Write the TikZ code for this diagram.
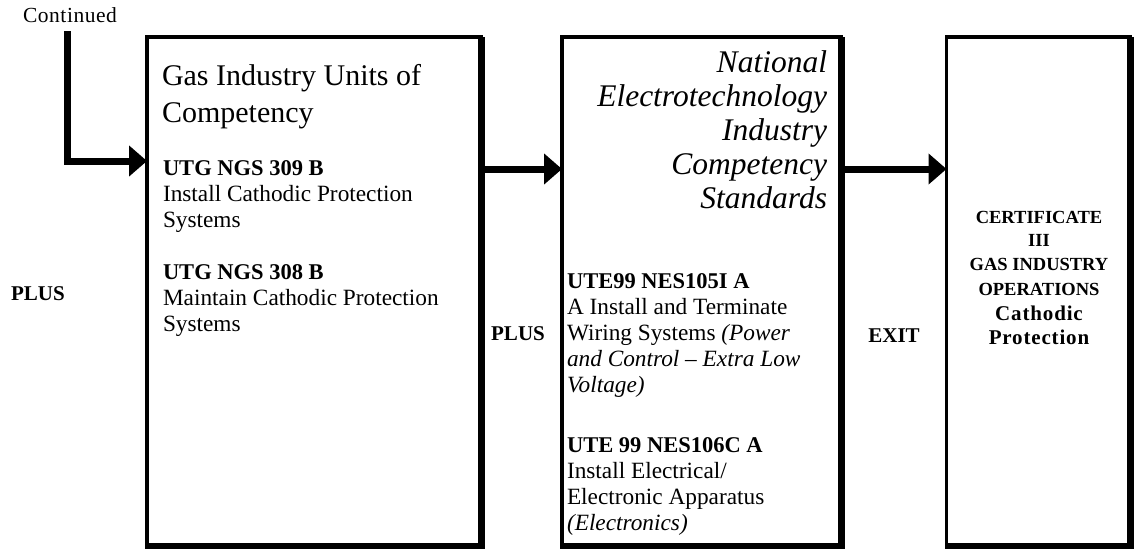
\documentclass[tikz,border=0pt]{standalone}
\usepackage{fontspec}
\setmainfont{Liberation Serif}
\usetikzlibrary{arrows.meta}
\begin{document}
\begin{tikzpicture}[x=1pt,y=-1pt,
  box/.style={draw, line width=3.8pt, outer sep=0pt, inner sep=0pt, anchor=north west},
  shadowedge/.style={line width=6.8pt, line cap=butt, line join=miter},
  arr/.style={line width=7pt, line join=miter, -{Triangle[length=18pt,width=30pt]}},
  lbl/.style={inner sep=0pt, outer sep=0pt},
  smalltxt/.style={lbl, anchor=base, font=\fontsize{21.5}{24}\selectfont\addfontfeature{LetterSpace=2.5}},
  title/.style={lbl, anchor=base west, font=\fontsize{30}{34}\selectfont},
  ititle/.style={lbl, anchor=base east, font=\fontsize{31.5}{34}\selectfont\itshape},
  body/.style={lbl, anchor=base west, font=\fontsize{23.3}{26}\selectfont},
  bodyb/.style={lbl, anchor=base west, font=\fontsize{22.5}{26}\selectfont\bfseries},
  plustxt/.style={lbl, anchor=base, font=\fontsize{21}{24}\selectfont\bfseries},
  caps/.style={lbl, anchor=base, font=\fontsize{18.5}{22}\selectfont\bfseries},
  capsbig/.style={lbl, anchor=base, font=\fontsize{21}{24}\selectfont\bfseries\addfontfeature{LetterSpace=4}}
]
\useasboundingbox (0,0) rectangle (1135,550);

% boxes
\node[box, minimum width=334.5pt, minimum height=509pt] (b1) at (147,37) {};
\node[box, minimum width=279.5pt, minimum height=509pt] (b2) at (562,37) {};
\node[box, minimum width=184pt, minimum height=509pt] (b3) at (946.5,37) {};
\draw[shadowedge] (b1.north east) -- (b1.south east) -- ([xshift=-1.9pt]b1.south west);
\draw[shadowedge] (b2.north east) -- (b2.south east) -- ([xshift=-1.9pt]b2.south west);
\draw[shadowedge] (b3.north east) -- (b3.south east) -- ([xshift=-1.9pt]b3.south west);

% connectors
\coordinate (cstart) at (67,31);
\draw[arr] (cstart) |- ([yshift=-124pt]b1.north west);
\draw[arr] ([yshift=-132pt]b1.north east) -- ([yshift=-132pt]b2.north west);
\draw[arr] ([yshift=-132pt]b2.north east) -- ([yshift=-132pt]b3.north west);

% texts
\node[smalltxt] (cont) at (70,22) {Continued};
\node[plustxt] (p1) at (38,300) {PLUS};
\node[plustxt] (p2) at (518,340) {PLUS};
\node[plustxt] (ex) at (894,342) {EXIT};

\node[title] (g1) at (162,85) {Gas Industry Units of};
\node[title] (g2) at (162,122) {Competency};
\node[bodyb] (u1) at (163,175) {UTG NGS 309 B};
\node[body] (u1a) at (163,201) {Install Cathodic Protection};
\node[body] (u1b) at (163,227) {Systems};
\node[bodyb] (u2) at (163,279) {UTG NGS 308 B};
\node[body] (u2a) at (163,305) {Maintain Cathodic Protection};
\node[body] (u2b) at (163,331) {Systems};

\node[ititle] (n1) at (827,72) {National};
\node[ititle] (n2) at (827,106) {Electrotechnology};
\node[ititle] (n3) at (827,140) {Industry};
\node[ititle] (n4) at (827,174) {Competency};
\node[ititle] (n5) at (827,208) {Standards};

\node[bodyb] (e1) at (567,288) {UTE99 NES105I A};
\node[body] (e1a) at (567,314) {A Install and Terminate};
\node[body] (e1b) at (567,340) {Wiring Systems \textit{(Power}};
\node[body] (e1c) at (567,366) {\textit{and Control – Extra Low}};
\node[body] (e1d) at (567,392) {\textit{Voltage)}};
\node[bodyb] (e2) at (567,452) {UTE 99 NES106C A};
\node[body] (e2a) at (567,478) {Install Electrical/};
\node[body] (e2b) at (567,504) {Electronic Apparatus};
\node[body] (e2c) at (567,530) {\textit{(Electronics)}};

\node[caps] (k1) at (1039,223) {CERTIFICATE};
\node[caps] (k2) at (1039,246) {III};
\node[caps] (k3) at (1039,270) {GAS INDUSTRY};
\node[caps] (k4) at (1039,295) {OPERATIONS};
\node[capsbig] (k5) at (1039,320) {Cathodic};
\node[capsbig] (k6) at (1039,344) {Protection};
\end{tikzpicture}
\end{document}
